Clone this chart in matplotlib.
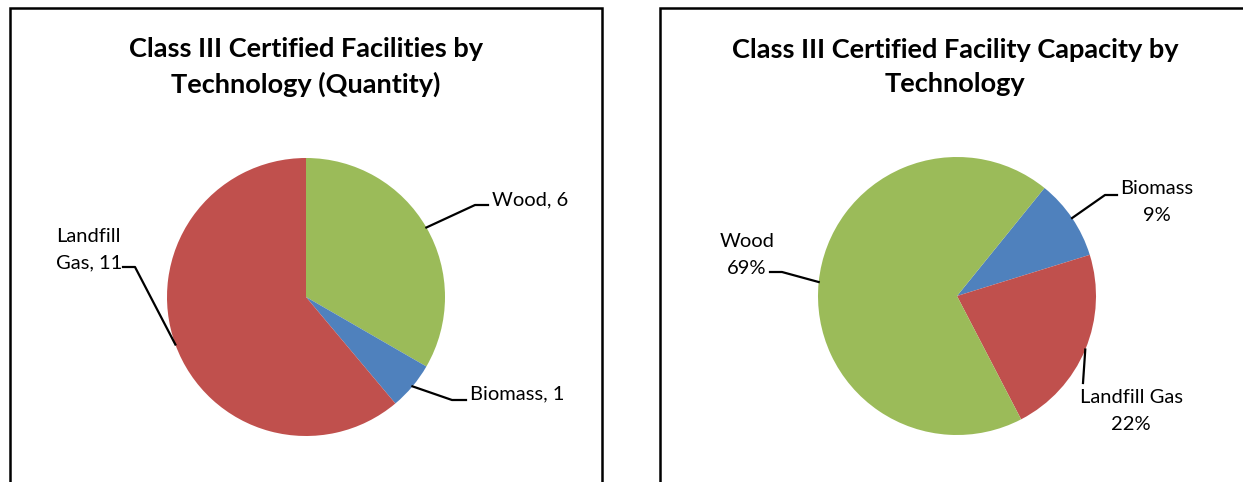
import numpy as np
import matplotlib.pyplot as plt
from matplotlib.patches import Rectangle

plt.rcParams["font.family"] = ["Lato", "DejaVu Sans"]

# ── data ──
qty_labels = ["Wood", "Biomass", "Landfill Gas"]
qty_values = [6, 1, 11]
qty_colors = ["#9BBB59", "#4F81BD", "#C0504D"]
qty_text = ["Wood, 6", "Biomass, 1", "Landfill\nGas, 11"]

cap_labels = ["Biomass", "Landfill Gas", "Wood"]
cap_values = [9.4, 22.2, 68.6]
cap_colors = ["#4F81BD", "#C0504D", "#9BBB59"]
cap_text = ["Biomass\n9%", "Landfill Gas\n22%", "Wood\n69%"]

W, H = 1243, 482
fig = plt.figure(figsize=(W / 100, H / 100), dpi=100)

# panel borders (pixel coords)
for x0, x1 in [(10, 602), (660, 1260)]:
    fig.patches.append(Rectangle((x0 / W, -0.1), (x1 - x0) / W, (H - 8) / H + 0.1,
                                 transform=fig.transFigure, fill=False,
                                 edgecolor="black", linewidth=1.8))

fig.text(306 / W, 1 - 67 / H, "Class III Certified Facilities by\nTechnology (Quantity)",
         ha="center", va="center", fontsize=19.5, fontweight="bold", linespacing=1.5)
fig.text(955 / W, 1 - 67 / H, "Class III Certified Facility Capacity by\nTechnology",
         ha="center", va="center", fontsize=19.5, fontweight="bold", linespacing=1.5)


def pie_axes(cx, cy, r):
    return fig.add_axes([(cx - r) / W, (H - cy - r) / H, 2 * r / W, 2 * r / H])


def draw_pie(ax, values, colors, start):
    wedges, _ = ax.pie(values, colors=colors, startangle=start, counterclock=False,
                       radius=1, wedgeprops=dict(linewidth=0))
    ax.set_xlim(-1, 1)
    ax.set_ylim(-1, 1)
    ax.set_aspect("equal")
    return wedges


def leader(ax, wedge, elbow, end, text, tpos, ha):
    mid = np.deg2rad((wedge.theta1 + wedge.theta2) / 2)
    sx, sy = np.cos(mid), np.sin(mid)
    xs = [sx] + [p[0] for p in elbow] + [end[0]]
    ys = [sy] + [p[1] for p in elbow] + [end[1]]
    ax.plot(xs, ys, color="black", linewidth=1.6, clip_on=False)
    ax.text(tpos[0], tpos[1], text, ha=ha, va="center", fontsize=14.5,
            linespacing=1.65, clip_on=False)


# left pie: centre (306, 297), r 139 px
ax1 = pie_axes(306, 297, 139)
w1 = draw_pie(ax1, qty_values, qty_colors, 90)
R = 139.0
px = lambda x, y: ((x - 306) / R, (297 - y) / R)
leader(ax1, w1[0], [px(475, 205)], px(488, 205), qty_text[0], px(492, 200), "left")
leader(ax1, w1[1], [px(452, 400)], px(466, 400), qty_text[1], px(470, 394), "left")
leader(ax1, w1[2], [px(135, 267)], px(123, 267), qty_text[2], px(56, 250), "left")

# right pie: centre (957, 296), r 139 px
ax2 = pie_axes(957, 296, 139)
w2 = draw_pie(ax2, cap_values, cap_colors, 51)
qx = lambda x, y: ((x - 957) / R, (296 - y) / R)
leader(ax2, w2[0], [qx(1105, 195)], qx(1117, 195), cap_text[0], qx(1157, 202), "center")
leader(ax2, w2[1], [], qx(1083, 383), cap_text[1], qx(1131, 411), "center")
leader(ax2, w2[2], [qx(782, 272)], qx(770, 272), cap_text[2], qx(747, 255), "center")

fig.savefig("out.png", dpi=100, facecolor="white")
